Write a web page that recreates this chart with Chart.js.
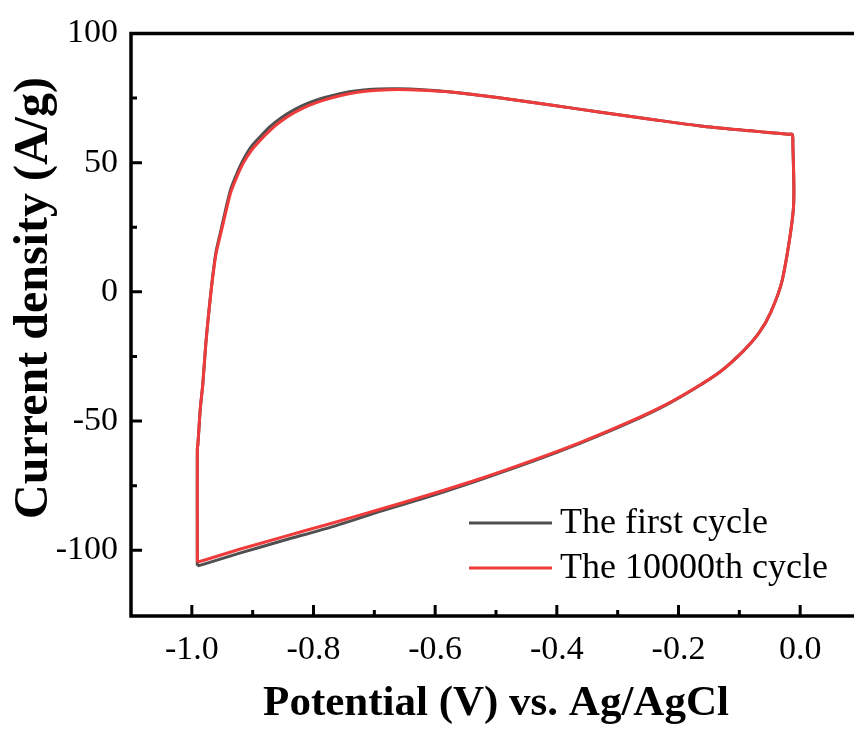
<!DOCTYPE html>
<html>
<head>
<meta charset="utf-8">
<script src="https://cdn.jsdelivr.net/npm/chart.js@4.4.1/dist/chart.umd.min.js"></script>
<style>
  html, body { margin: 0; padding: 0; background: #fff; overflow: hidden; width: 854px; height: 733px; }
</style>
</head>
<body>
<canvas id="cvChart" width="864" height="733"></canvas>
<script>
// CV loop (potential in V, current density in A/g)
const seriesNames = ['The first cycle', 'The 10000th cycle'];
const yTitle = 'Current density (A/g)';
const xTitle = 'Potential (V) vs. Ag/AgCl';

const loopX = [-0.991, -0.991, -0.991, -0.990, -0.986, -0.982, -0.977, -0.972, -0.966, -0.960, -0.952, -0.944, -0.936, -0.926, -0.915, -0.902, -0.887, -0.871, -0.854, -0.832, -0.809, -0.783, -0.755, -0.725, -0.694, -0.660, -0.620, -0.574, -0.492, -0.410, -0.328, -0.246, -0.164, -0.081, -0.053, -0.020, -0.013, -0.012, -0.011,
  -0.029, -0.048, -0.068, -0.094, -0.131, -0.170, -0.220, -0.283, -0.361, -0.440, -0.525, -0.610, -0.689, -0.770, -0.850, -0.920, -0.984, -0.991];

const firstY = [-106.0, -101.5, -61.0, -58.8, -45.0, -35.8, -20.0, -7.5, 5.5, 15.8, 24.0, 32.3, 39.8, 45.8, 51.3, 56.3, 60.2, 64.0, 67.2, 70.4, 73.0, 75.1, 76.8, 77.9, 78.5, 78.6, 78.2, 77.3, 75.0, 72.3, 69.5, 66.8, 64.2, 62.3, 61.7, 61.0, 60.9, 57.5, 32.5,
  5.0, -7.7, -16.0, -23.0, -30.8, -36.9, -43.7, -50.8, -58.5, -65.6, -72.6, -79.2, -84.8, -90.9, -96.2, -101.0, -105.6, -106.0];

const tenkY = [-104.5, -100.0, -61.0, -58.8, -45.0, -35.8, -20.0, -7.7, 5.0, 15.0, 23.0, 31.0, 38.5, 44.5, 50.0, 54.8, 58.8, 62.6, 65.9, 69.3, 72.0, 74.2, 76.0, 77.3, 78.0, 78.3, 78.0, 77.3, 75.0, 72.3, 69.5, 66.8, 64.2, 62.3, 61.7, 61.0, 60.9, 57.5, 32.5,
  5.0, -7.7, -16.0, -23.0, -30.8, -36.8, -43.5, -50.5, -58.2, -65.2, -72.2, -78.5, -84.0, -89.5, -94.8, -99.5, -104.1, -104.5];

const xTicks = [-1.0, -0.8, -0.6, -0.4, -0.2, 0.0];
const xMinor = [-0.9, -0.7, -0.5, -0.3, -0.1];
const yTicks = [-100, -50, 0, 50, 100];
const yMinor = [-75, -25, 25, 75];

const toPoints = (xs, ys) => xs.map((x, i) => ({ x: x, y: ys[i] }));

const serif = '"Liberation Serif", "Times New Roman", serif';
const tickFont = { family: serif, size: 34 };

// frame, inward ticks, y title and the legend inside the plot
const framePlugin = {
  id: 'frame',
  afterDraw(chart) {
    const ctx = chart.ctx;
    const a = chart.chartArea;
    const xs = chart.scales.x, ys = chart.scales.y;
    ctx.save();
    ctx.strokeStyle = '#000';
    ctx.lineWidth = 3.5;
    ctx.lineCap = 'square';
    ctx.beginPath();
    ctx.moveTo(a.right, a.top);
    ctx.lineTo(a.left, a.top);
    ctx.lineTo(a.left, a.bottom);
    ctx.lineTo(a.right, a.bottom);
    ctx.stroke();

    ctx.lineWidth = 3;
    ctx.lineCap = 'butt';
    ctx.beginPath();
    xTicks.forEach(v => { const p = xs.getPixelForValue(v); ctx.moveTo(p, a.bottom); ctx.lineTo(p, a.bottom - 11); });
    xMinor.forEach(v => { const p = xs.getPixelForValue(v); ctx.moveTo(p, a.bottom); ctx.lineTo(p, a.bottom - 6); });
    yTicks.forEach(v => { const p = ys.getPixelForValue(v); ctx.moveTo(a.left, p); ctx.lineTo(a.left + 11, p); });
    yMinor.forEach(v => { const p = ys.getPixelForValue(v); ctx.moveTo(a.left, p); ctx.lineTo(a.left + 6, p); });
    ctx.stroke();

    // y axis title
    ctx.fillStyle = '#000';
    ctx.save();
    ctx.translate(47, 298);
    ctx.rotate(-Math.PI / 2);
    ctx.font = 'bold 48px ' + serif;
    ctx.textAlign = 'center';
    ctx.textBaseline = 'alphabetic';
    ctx.fillText(yTitle, 0, 0);
    ctx.restore();

    // legend
    ctx.font = '36px ' + serif;
    ctx.textBaseline = 'middle';
    ctx.textAlign = 'left';
    chart.data.datasets.forEach((ds, i) => {
      const y = 523 + i * 45;
      ctx.strokeStyle = ds.borderColor;
      ctx.lineWidth = 3;
      ctx.beginPath();
      ctx.moveTo(469, y);
      ctx.lineTo(552, y);
      ctx.stroke();
      ctx.fillText(ds.label, 560, y + 1);
    });
    ctx.restore();
  }
};

new Chart(document.getElementById('cvChart'), {
  type: 'scatter',
  data: {
    datasets: [{
      label: seriesNames[0],
      data: toPoints(loopX, firstY),
      showLine: true,
      borderColor: '#4f4f4f',
      borderWidth: 3,
      pointRadius: 0,
      tension: 0.25,
      order: 2
    }, {
      label: seriesNames[1],
      data: toPoints(loopX, tenkY),
      showLine: true,
      borderColor: '#ef3b3b',
      borderWidth: 3,
      pointRadius: 0,
      tension: 0.25,
      order: 1
    }]
  },
  options: {
    responsive: false,
    animation: false,
    layout: { padding: { top: 30, right: 3, left: 0, bottom: 0 } },
    plugins: { legend: { display: false }, tooltip: { enabled: false } },
    scales: {
      x: {
        type: 'linear',
        min: -1.1,
        max: 0.1,
        afterBuildTicks: s => { s.ticks = xTicks.map(v => ({ value: v })); },
        afterFit: s => { s.height = 117; },
        grid: { display: false, drawTicks: false },
        border: { display: false },
        ticks: {
          autoSkip: false, maxRotation: 0, padding: 14, color: '#000', font: tickFont,
          callback: v => Number(v).toFixed(1)
        },
        title: { display: true, text: xTitle, color: '#000', font: { family: serif, size: 43, weight: 'bold' }, padding: { top: 0, bottom: 3 } }
      },
      y: {
        type: 'linear',
        min: -125.4,
        max: 100,
        afterBuildTicks: s => { s.ticks = yTicks.map(v => ({ value: v })); },
        afterFit: s => { s.width = 131; },
        grid: { display: false, drawTicks: false },
        border: { display: false },
        ticks: { autoSkip: false, padding: 13, color: '#000', font: tickFont, callback: v => String(v) }
      }
    }
  },
  plugins: [framePlugin]
});
</script>
</body>
</html>
